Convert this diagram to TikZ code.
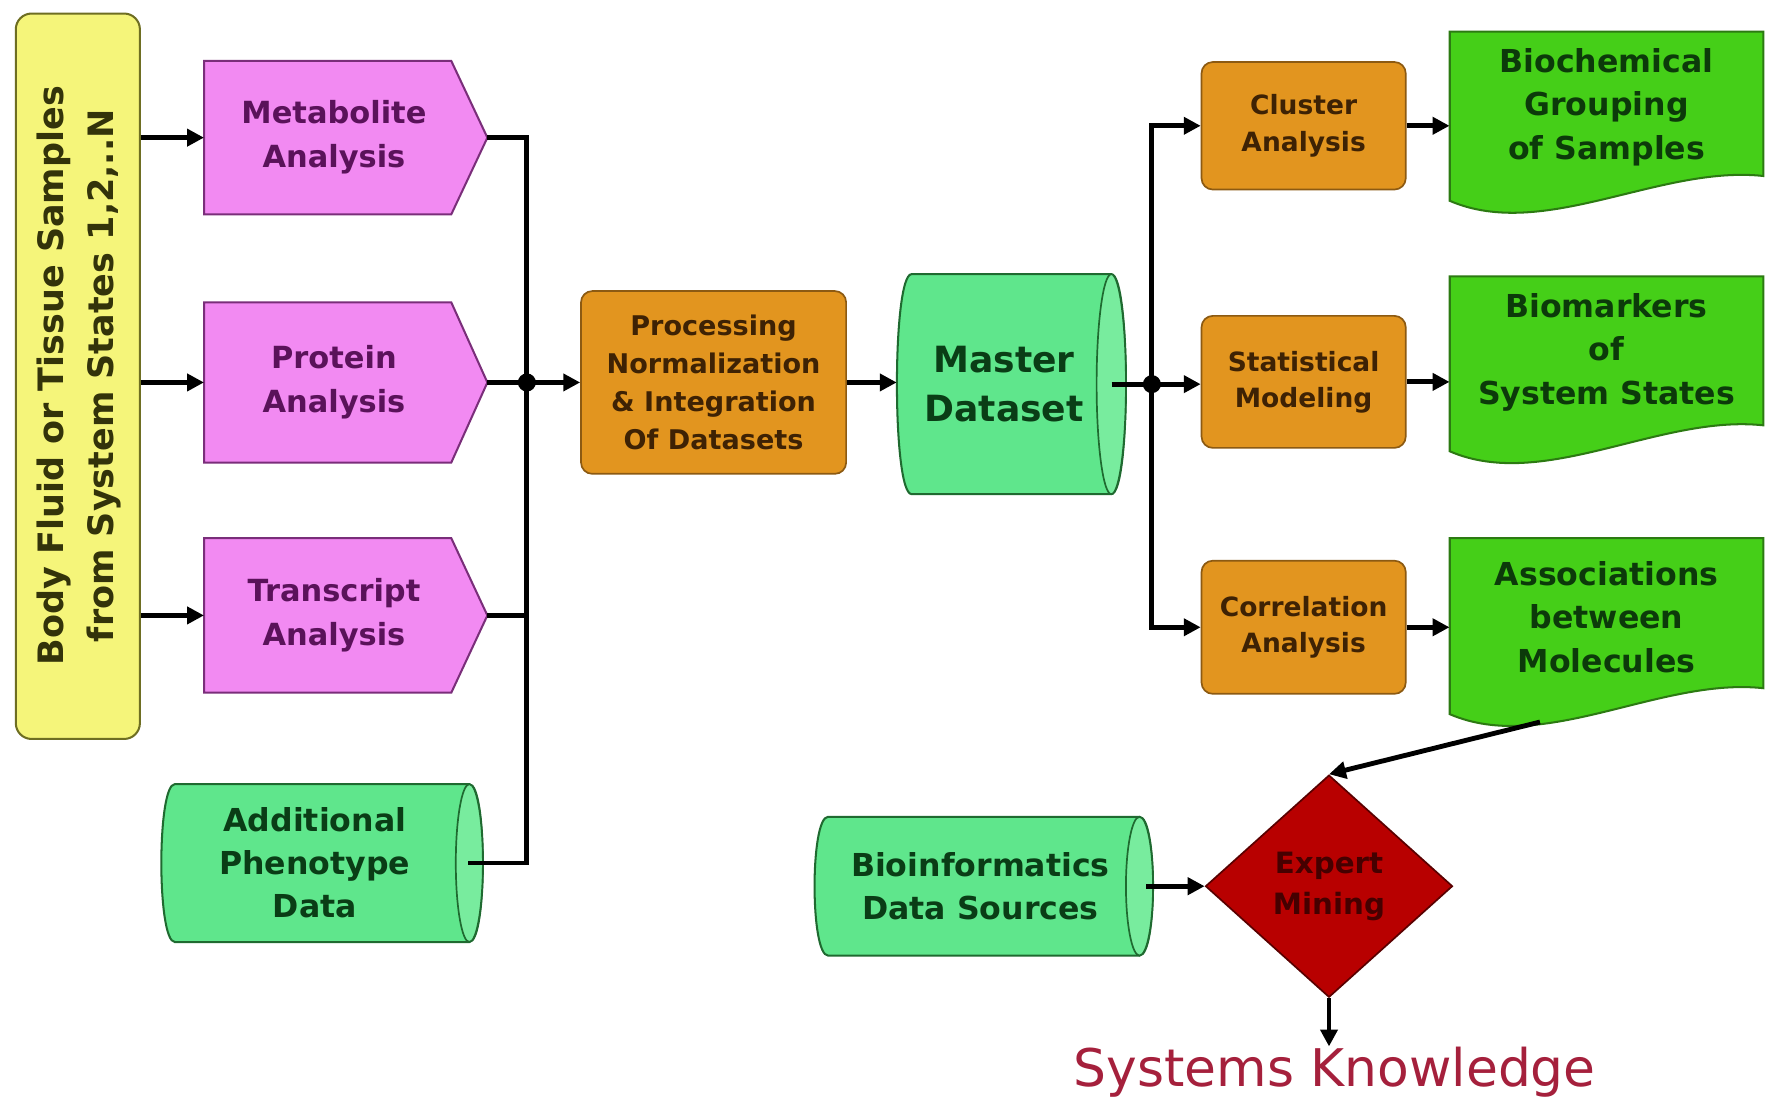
\documentclass[tikz,border=0pt]{standalone}
\usepackage{fontspec}
\setmainfont{DejaVu Sans}
\usetikzlibrary{shapes.geometric,arrows.meta}

\definecolor{srcfill}{HTML}{F5F57A}
\definecolor{srcline}{HTML}{6E6E22}
\definecolor{srctext}{HTML}{33330A}
\definecolor{omicfill}{HTML}{F28AF2}
\definecolor{omicline}{HTML}{7A2E7A}
\definecolor{omictext}{HTML}{5A125A}
\definecolor{procfill}{HTML}{E2951F}
\definecolor{procline}{HTML}{8C5A12}
\definecolor{proctext}{HTML}{3E2204}
\definecolor{dbfill}{HTML}{5FE68C}
\definecolor{dbcap}{HTML}{78EC9E}
\definecolor{dbline}{HTML}{1F6A30}
\definecolor{dbtext}{HTML}{0A3D16}
\definecolor{docfill}{HTML}{45CF18}
\definecolor{docline}{HTML}{2C7A12}
\definecolor{doctext}{HTML}{0C3A0A}
\definecolor{minefill}{HTML}{B80000}
\definecolor{mineline}{HTML}{5A0000}
\definecolor{minetext}{HTML}{450000}
\definecolor{knowtext}{HTML}{A5203C}

% horizontal database drum: left, top, right, bottom, cap radius
\newcommand\dbshape[5]{%
  \path[fill=dbfill, draw=dbline, line width=1.8]
    ({#1+#5},#2) -- ({#3-#5},#2)
    .. controls ({#3+0.333*#5},#2) and ({#3+0.333*#5},#4) .. ({#3-#5},#4)
    -- ({#1+#5},#4)
    .. controls ({#1-0.333*#5},#4) and ({#1-0.333*#5},#2) .. cycle;
  \path[fill=dbcap, draw=dbline, line width=1.5]
    ({#3-#5},{(#2+#4)/2}) ellipse [x radius=#5, y radius={(#4-#2)/2}];
}
% document sheet with wavy lower edge: left, top, right, bottom-left, bottom-right
\newcommand\docshape[5]{%
  \path[fill=docfill, draw=docline, line width=1.8]
    (#1,#2) -- (#3,#2) -- (#3,#5)
    .. controls ({#1+0.67*(#3-#1)},{#5-10}) and ({#1+0.3*(#3-#1)},{#4+36}) .. (#1,#4)
    -- cycle;
}
% arrow-shaped assay block: left, top, shoulder, tip, bottom
\newcommand\omicshape[5]{%
  \path[fill=omicfill, draw=omicline, line width=1.8]
    (#1,#2) -- (#3,#2) -- (#4,{(#2+#5)/2}) -- (#3,#5) -- (#1,#5) -- cycle;
}

\begin{document}
\begin{tikzpicture}[x=1pt,y=-1pt,
  every node/.style={inner sep=0pt},
  omictxt/.style={font=\fontsize{27}{39}\selectfont\bfseries, text=omictext, align=center},
  dbtxt/.style={font=\fontsize{28}{38}\selectfont\bfseries, text=dbtext, align=center},
  doctxt/.style={font=\fontsize{28}{38.5}\selectfont\bfseries, text=doctext, align=center,
    minimum width=278, minimum height=130},
  procbox/.style={draw=procline, fill=procfill, line width=1.5, rounded corners=10,
    text=proctext, align=center},
  anabox/.style={procbox, minimum width=181, font=\fontsize{23.5}{32}\selectfont\bfseries},
  wire/.style={line width=4.3, draw=black},
  flow/.style={wire, -{Triangle[length=15pt,width=15pt]}},
  dot/.style={fill=black}
]
\useasboundingbox (0,0) rectangle (1568,981);
\fill[white] (0,0) rectangle (1568,981);

% sample source
\node[draw=srcline, fill=srcfill, line width=1.8, rounded corners=14,
      minimum width=110, minimum height=643] (src) at (69,333.5) {};
\node[rotate=90, font=\fontsize{31}{44}\selectfont\bfseries, text=srctext, align=center]
  (srclabel) at (70,333) {Body Fluid or Tissue Samples\\from System States 1,2,..N};

% assays
\omicshape{181}{54}{400}{432}{190}
\coordinate (mettip) at (432,122);
\node[omictxt, minimum width=230, minimum height=136] (met) at (296,122) {Metabolite\\Analysis};

\omicshape{181}{268}{400}{432}{410}
\coordinate (protip) at (432,339);
\node[omictxt, minimum width=230, minimum height=142] (pro) at (296,339) {Protein\\Analysis};

\omicshape{181}{477}{400}{432}{614}
\coordinate (tratip) at (432,545.5);
\node[omictxt, minimum width=230, minimum height=137] (tra) at (296,545.5) {Transcript\\Analysis};

% phenotype data
\dbshape{143}{695}{428}{835}{12}
\node[dbtxt, minimum width=272, minimum height=140] (pheno) at (279,765)
  {Additional\\Phenotype\\Data};

% processing
\node[procbox, minimum width=235, minimum height=162,
      font=\fontsize{24}{33.5}\selectfont\bfseries] (proc) at (632.5,339)
  {Processing\\Normalization\\\& Integration\\Of Datasets};

% master dataset
\dbshape{795}{243}{998}{438}{13}
\node[dbtxt, font=\fontsize{32}{44}\selectfont\bfseries, minimum width=190, minimum height=195]
  (master) at (890,340.5) {Master\\Dataset};

% analyses
\node[anabox, minimum height=113] (clu) at (1155.5,111.5) {Cluster\\Analysis};
\node[anabox, minimum height=117] (sta) at (1155.5,338.5) {Statistical\\Modeling};
\node[anabox, minimum height=118] (cor) at (1155.5,556) {Correlation\\Analysis};

% results
\docshape{1285}{28}{1563}{178}{156}
\node[doctxt] (bio) at (1424,95) {Biochemical\\Grouping\\of Samples};
\docshape{1285}{245}{1563}{400}{377}
\node[doctxt] (mark) at (1424,312) {Biomarkers\\of\\System States};
\docshape{1285}{477}{1563}{633}{610}
\node[doctxt] (assoc) at (1424,547) {Associations\\between\\Molecules};
\coordinate (afoot) at (1365,640);

% external sources and mining
\dbshape{722}{724}{1022}{847}{12}
\node[dbtxt, minimum width=294, minimum height=123] (binf) at (869,785.5)
  {Bioinformatics\\Data Sources};
\node[diamond, draw=mineline, fill=minefill, line width=1.5, minimum width=219,
      minimum height=197, font=\fontsize{26}{36}\selectfont\bfseries, text=minetext,
      align=center] (mine) at (1178,785.5) {Expert\\Mining};
\node[font=\fontsize{46}{50}\selectfont, text=knowtext] (know) at (1183,950)
  {Systems Knowledge};

% connectors
\draw[flow] (src.east |- met.west) -- (met.west);
\draw[flow] (src.east |- pro.west) -- (pro.west);
\draw[flow] (src.east |- tra.west) -- (tra.west);
\coordinate (jl) at (467,339);
\draw[wire] (mettip) -| (jl);
\draw[wire] (tratip) -| (jl);
\draw[wire] (pheno.east) -| (jl);
\draw[wire] (protip) -- (jl);
\fill[dot] (jl) circle [radius=8];
\draw[flow] (jl) -- (proc.west);

\draw[flow] (proc.east) -- (proc.east -| master.west);
\coordinate (jr) at (1021,340.5);
\draw[wire] (master.east) -- (jr);
\fill[dot] (jr) circle [radius=8];
\draw[flow] (jr) |- (clu.west);
\draw[flow] (jr) -- (jr -| sta.west);
\draw[flow] (jr) |- (cor.west);

\draw[flow] (clu.east) -- (clu.east -| bio.west);
\draw[flow] (sta.east) -- (sta.east -| mark.west);
\draw[flow] (cor.east) -- (cor.east -| assoc.west);

\draw[flow] (afoot) -- (mine.north);
\draw[flow] (binf.east) -- (mine.west);
\draw[flow] (mine.south) -- (mine.south |- know.north);
\end{tikzpicture}
\end{document}
